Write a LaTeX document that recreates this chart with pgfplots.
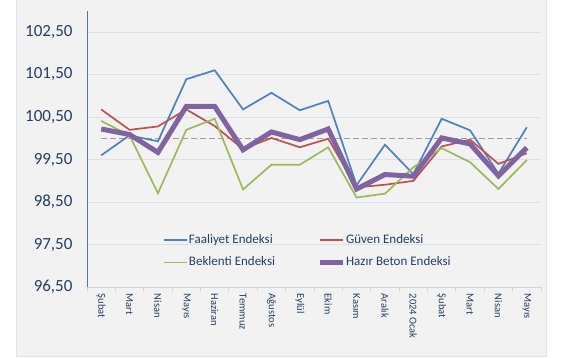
\documentclass[border=0pt]{standalone}
\usepackage{pgfplots}
\pgfplotsset{compat=1.18}
\usepackage{fontspec}
\setmainfont{Carlito}
\definecolor{cblue}{HTML}{4F81BD}
\definecolor{cred}{HTML}{C0504D}
\definecolor{cgreen}{HTML}{9BBB59}
\definecolor{cpurple}{HTML}{8064A2}
\definecolor{panel}{HTML}{F2F2F2}
\definecolor{panelborder}{HTML}{DCE3EA}
\definecolor{gridc}{HTML}{D9E2EC}
\definecolor{axisblue}{HTML}{5272A8}
\definecolor{xaxisc}{HTML}{D0D4D8}
\definecolor{tickc}{HTML}{243F60}
\definecolor{dashc}{HTML}{A0A0A0}
\begin{document}
\begin{tikzpicture}[x=1pt,y=1pt]
\path[use as bounding box] (0,0) rectangle (566,358);
\fill[panel, draw=panelborder] (16,2) rectangle (546,358.5);
\begin{axis}[
  at={(87pt,70.7pt)}, anchor=south west,
  scale only axis, width=454pt, height=276.6pt,
  xmin=-0.5, xmax=15.5, ymin=96.5, ymax=103,
  axis x line*=bottom, axis y line*=left,
  x axis line style={draw=xaxisc, line width=0.8pt},
  y axis line style={draw=axisblue, line width=0.9pt},
  xtick={0,...,15},
  xticklabels={Şubat,Mart,Nisan,Mayıs,Haziran,Temmuz,Ağustos,Eylül,Ekim,Kasım,Aralık,2024 Ocak,Şubat,Mart,Nisan,Mayıs},
  minor xtick={-0.5,0.5,...,15.5},
  ytick={96.5,97.5,98.5,99.5,100.5,101.5,102.5},
  major tick length=0pt, minor tick length=4pt, tick align=outside,
  minor x tick style={draw=xaxisc, line width=0.8pt},
  ymajorgrids, major grid style={draw=gridc, line width=0.7pt},
  /pgf/number format/.cd, fixed, fixed zerofill, precision=2, use comma, assume math mode=true,
  /pgfplots/.cd,
  yticklabel style={font=\fontsize{17}{20}\selectfont, text=tickc, xshift=-11pt},
  xticklabel style={rotate=-90, anchor=west, font=\fontsize{10.5}{12}\selectfont, text=tickc, xshift=3pt},
  legend columns=2,
  legend cell align=left,
  legend image code/.code={\draw[#1] (0pt,0pt) -- (23pt,0pt);},
  legend style={at={(0.161,0.205)}, anchor=north west, draw=none, fill=none,
    font=\fontsize{13}{15}\selectfont, text=tickc,
    nodes={inner sep=1pt, text height=9.5pt, text depth=3pt},
    row sep=8pt,
    /tikz/every even column/.append style={column sep=41pt}},
]
\addplot[dashc, line width=1.5pt, dash pattern=on 6pt off 3pt, forget plot] coordinates {(0,100) (15,100)};
\addplot[cblue, line width=1.7pt] coordinates {
(0,99.60) (1,100.07) (2,99.93) (3,101.39) (4,101.60) (5,100.68) (6,101.07) (7,100.66)
(8,100.88) (9,98.90) (10,99.85) (11,99.16) (12,100.46) (13,100.19) (14,99.17) (15,100.26)};
\addlegendentry{Faaliyet Endeksi}
\addplot[cred, line width=1.7pt] coordinates {
(0,100.68) (1,100.20) (2,100.28) (3,100.68) (4,100.29) (5,99.75) (6,100.01) (7,99.79)
(8,99.99) (9,98.85) (10,98.91) (11,99.00) (12,99.81) (13,99.97) (14,99.40) (15,99.65)};
\addlegendentry{Güven Endeksi}
\addplot[cgreen, line width=1.7pt] coordinates {
(0,100.41) (1,100.07) (2,98.71) (3,100.20) (4,100.46) (5,98.80) (6,99.38) (7,99.38)
(8,99.79) (9,98.61) (10,98.70) (11,99.32) (12,99.77) (13,99.44) (14,98.81) (15,99.49)};
\addlegendentry{Beklenti Endeksi}
\addplot[cpurple, line width=5pt] coordinates {
(0,100.22) (1,100.09) (2,99.67) (3,100.75) (4,100.75) (5,99.73) (6,100.15) (7,99.97)
(8,100.22) (9,98.81) (10,99.15) (11,99.11) (12,100.01) (13,99.87) (14,99.12) (15,99.78)};
\addlegendentry{Hazır Beton Endeksi}
\end{axis}
\end{tikzpicture}
\end{document}
